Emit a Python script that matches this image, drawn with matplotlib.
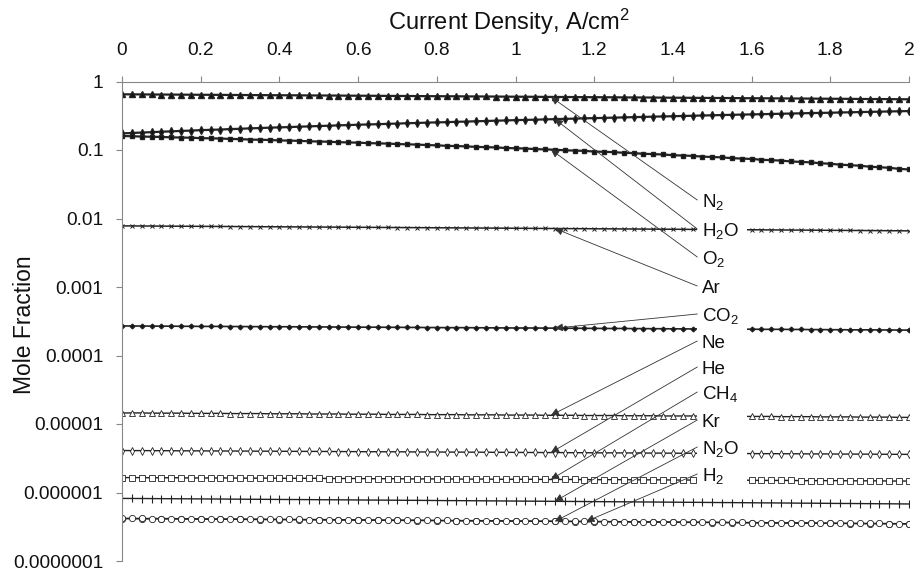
import numpy as np
import matplotlib
matplotlib.use("Agg")
import matplotlib.pyplot as plt
import matplotlib.transforms as mtransforms
from matplotlib.patches import Rectangle
from matplotlib.ticker import NullLocator

plt.rcParams['font.family'] = ['Liberation Sans', 'DejaVu Sans']
plt.rcParams['mathtext.fontset'] = 'custom'
plt.rcParams['mathtext.rm'] = 'Liberation Sans'
plt.rcParams['mathtext.it'] = 'Liberation Sans:italic'

# current density, A/cm2 (one point every 0.025)
current = np.round(np.arange(81) * 0.025, 3)
current_n2o = np.round(np.arange(41) * 0.05, 3)

n2 = [0.650, 0.649, 0.648, 0.646, 0.645, 0.644, 0.643, 0.641, 0.640, 0.639,
      0.638, 0.636, 0.635, 0.634, 0.633, 0.631, 0.630, 0.629, 0.628, 0.626,
      0.625, 0.624, 0.623, 0.621, 0.620, 0.619, 0.618, 0.616, 0.615, 0.614,
      0.613, 0.611, 0.610, 0.609, 0.608, 0.606, 0.605, 0.604, 0.603, 0.601,
      0.600, 0.599, 0.598, 0.596, 0.595, 0.594, 0.593, 0.591, 0.590, 0.589,
      0.588, 0.586, 0.585, 0.584, 0.583, 0.581, 0.580, 0.579, 0.578, 0.576,
      0.575, 0.574, 0.573, 0.571, 0.570, 0.569, 0.568, 0.566, 0.565, 0.564,
      0.563, 0.561, 0.560, 0.559, 0.558, 0.556, 0.555, 0.554, 0.553, 0.551,
      0.550]
h2o = [0.175, 0.177, 0.180, 0.182, 0.185, 0.187, 0.190, 0.192, 0.195, 0.197,
       0.199, 0.202, 0.204, 0.207, 0.209, 0.212, 0.214, 0.216, 0.219, 0.221,
       0.224, 0.226, 0.229, 0.231, 0.234, 0.236, 0.238, 0.241, 0.243, 0.246,
       0.248, 0.251, 0.253, 0.255, 0.258, 0.260, 0.263, 0.265, 0.268, 0.270,
       0.273, 0.275, 0.277, 0.280, 0.282, 0.285, 0.287, 0.290, 0.292, 0.294,
       0.297, 0.299, 0.302, 0.304, 0.307, 0.309, 0.311, 0.314, 0.316, 0.319,
       0.321, 0.324, 0.326, 0.329, 0.331, 0.333, 0.336, 0.338, 0.341, 0.343,
       0.346, 0.348, 0.350, 0.353, 0.355, 0.358, 0.360, 0.363, 0.365, 0.368,
       0.370]
o2 = [0.160, 0.159, 0.157, 0.156, 0.155, 0.153, 0.152, 0.151, 0.149, 0.148,
      0.147, 0.145, 0.144, 0.142, 0.141, 0.140, 0.138, 0.137, 0.136, 0.134,
      0.133, 0.132, 0.130, 0.129, 0.128, 0.126, 0.125, 0.124, 0.122, 0.121,
      0.120, 0.118, 0.117, 0.115, 0.114, 0.113, 0.111, 0.110, 0.109, 0.107,
      0.106, 0.105, 0.103, 0.102, 0.101, 0.099, 0.098, 0.097, 0.095, 0.094,
      0.093, 0.091, 0.090, 0.088, 0.087, 0.086, 0.084, 0.083, 0.082, 0.080,
      0.079, 0.078, 0.076, 0.075, 0.074, 0.072, 0.071, 0.070, 0.068, 0.067,
      0.066, 0.064, 0.063, 0.061, 0.060, 0.059, 0.057, 0.056, 0.055, 0.053,
      0.052]
# x 1e-3
ar = [7.80, 7.79, 7.77, 7.76, 7.74, 7.73, 7.71, 7.70, 7.68, 7.67,
      7.65, 7.64, 7.62, 7.61, 7.59, 7.58, 7.56, 7.55, 7.53, 7.52,
      7.50, 7.49, 7.47, 7.46, 7.44, 7.43, 7.41, 7.40, 7.38, 7.37,
      7.35, 7.34, 7.32, 7.31, 7.29, 7.28, 7.26, 7.25, 7.23, 7.22,
      7.20, 7.19, 7.17, 7.16, 7.14, 7.13, 7.11, 7.10, 7.08, 7.07,
      7.05, 7.04, 7.02, 7.01, 6.99, 6.98, 6.96, 6.95, 6.93, 6.92,
      6.90, 6.89, 6.87, 6.86, 6.84, 6.83, 6.81, 6.80, 6.78, 6.77,
      6.75, 6.74, 6.72, 6.71, 6.69, 6.68, 6.66, 6.65, 6.63, 6.62,
      6.60]
# x 1e-4
co2 = [2.70, 2.70, 2.69, 2.69, 2.68, 2.68, 2.67, 2.67, 2.66, 2.66,
       2.66, 2.65, 2.65, 2.64, 2.64, 2.63, 2.63, 2.63, 2.62, 2.62,
       2.61, 2.61, 2.60, 2.60, 2.59, 2.59, 2.59, 2.58, 2.58, 2.57,
       2.57, 2.56, 2.56, 2.55, 2.55, 2.55, 2.54, 2.54, 2.53, 2.53,
       2.52, 2.52, 2.52, 2.51, 2.51, 2.50, 2.50, 2.49, 2.49, 2.48,
       2.48, 2.48, 2.47, 2.47, 2.46, 2.46, 2.45, 2.45, 2.44, 2.44,
       2.44, 2.43, 2.43, 2.42, 2.42, 2.41, 2.41, 2.41, 2.40, 2.40,
       2.39, 2.39, 2.38, 2.38, 2.37, 2.37, 2.37, 2.36, 2.36, 2.35,
       2.35]
# x 1e-5
ne = [1.45, 1.45, 1.45, 1.44, 1.44, 1.44, 1.44, 1.43, 1.43, 1.43,
      1.43, 1.42, 1.42, 1.42, 1.42, 1.41, 1.41, 1.41, 1.41, 1.40,
      1.40, 1.40, 1.40, 1.39, 1.39, 1.39, 1.39, 1.38, 1.38, 1.38,
      1.38, 1.37, 1.37, 1.37, 1.37, 1.36, 1.36, 1.36, 1.36, 1.35,
      1.35, 1.35, 1.35, 1.34, 1.34, 1.34, 1.34, 1.33, 1.33, 1.33,
      1.33, 1.32, 1.32, 1.32, 1.32, 1.31, 1.31, 1.31, 1.31, 1.30,
      1.30, 1.30, 1.30, 1.29, 1.29, 1.29, 1.29, 1.28, 1.28, 1.28,
      1.28, 1.27, 1.27, 1.27, 1.27, 1.26, 1.26, 1.26, 1.26, 1.25,
      1.25]
# x 1e-6
he = [4.10, 4.09, 4.09, 4.08, 4.08, 4.07, 4.06, 4.06, 4.05, 4.04,
      4.04, 4.03, 4.03, 4.02, 4.01, 4.01, 4.00, 3.99, 3.99, 3.98,
      3.98, 3.97, 3.96, 3.96, 3.95, 3.94, 3.94, 3.93, 3.93, 3.92,
      3.91, 3.91, 3.90, 3.89, 3.89, 3.88, 3.88, 3.87, 3.86, 3.86,
      3.85, 3.84, 3.84, 3.83, 3.83, 3.82, 3.81, 3.81, 3.80, 3.79,
      3.79, 3.78, 3.78, 3.77, 3.76, 3.76, 3.75, 3.74, 3.74, 3.73,
      3.73, 3.72, 3.71, 3.71, 3.70, 3.69, 3.69, 3.68, 3.68, 3.67,
      3.66, 3.66, 3.65, 3.64, 3.64, 3.63, 3.63, 3.62, 3.61, 3.61,
      3.60]
# x 1e-6
ch4 = [1.65, 1.65, 1.65, 1.64, 1.64, 1.64, 1.64, 1.63, 1.63, 1.63,
       1.63, 1.63, 1.62, 1.62, 1.62, 1.62, 1.61, 1.61, 1.61, 1.61,
       1.61, 1.60, 1.60, 1.60, 1.60, 1.59, 1.59, 1.59, 1.59, 1.58,
       1.58, 1.58, 1.58, 1.58, 1.57, 1.57, 1.57, 1.57, 1.56, 1.56,
       1.56, 1.56, 1.56, 1.55, 1.55, 1.55, 1.55, 1.54, 1.54, 1.54,
       1.54, 1.54, 1.53, 1.53, 1.53, 1.53, 1.52, 1.52, 1.52, 1.52,
       1.52, 1.51, 1.51, 1.51, 1.51, 1.50, 1.50, 1.50, 1.50, 1.49,
       1.49, 1.49, 1.49, 1.49, 1.48, 1.48, 1.48, 1.48, 1.47, 1.47,
       1.47]
# x 1e-7
kr = [8.20, 8.18, 8.17, 8.15, 8.13, 8.11, 8.10, 8.08, 8.06, 8.04,
      8.03, 8.01, 7.99, 7.97, 7.96, 7.94, 7.92, 7.90, 7.89, 7.87,
      7.85, 7.83, 7.82, 7.80, 7.78, 7.76, 7.75, 7.73, 7.71, 7.69,
      7.68, 7.66, 7.64, 7.62, 7.61, 7.59, 7.57, 7.55, 7.54, 7.52,
      7.50, 7.48, 7.47, 7.45, 7.43, 7.41, 7.40, 7.38, 7.36, 7.34,
      7.33, 7.31, 7.29, 7.27, 7.26, 7.24, 7.22, 7.20, 7.19, 7.17,
      7.15, 7.13, 7.12, 7.10, 7.08, 7.06, 7.05, 7.03, 7.01, 6.99,
      6.98, 6.96, 6.94, 6.92, 6.91, 6.89, 6.87, 6.85, 6.84, 6.82,
      6.80]
# x 1e-7
n2o = [4.15, 4.13, 4.12, 4.10, 4.08, 4.07, 4.05, 4.03, 4.01, 4.00,
       3.98, 3.96, 3.95, 3.93, 3.91, 3.90, 3.88, 3.86, 3.84, 3.83,
       3.81, 3.79, 3.78, 3.76, 3.74, 3.73, 3.71, 3.69, 3.67, 3.66,
       3.64, 3.62, 3.61, 3.59, 3.57, 3.56, 3.54, 3.52, 3.50, 3.49,
       3.47]
# x 1e-7
h2 = [4.20, 4.19, 4.18, 4.17, 4.17, 4.16, 4.15, 4.14, 4.13, 4.12,
      4.11, 4.10, 4.10, 4.09, 4.08, 4.07, 4.06, 4.05, 4.04, 4.03,
      4.03, 4.02, 4.01, 4.00, 3.99, 3.98, 3.97, 3.96, 3.96, 3.95,
      3.94, 3.93, 3.92, 3.91, 3.90, 3.89, 3.89, 3.88, 3.87, 3.86,
      3.85, 3.84, 3.83, 3.82, 3.82, 3.81, 3.80, 3.79, 3.78, 3.77,
      3.76, 3.75, 3.75, 3.74, 3.73, 3.72, 3.71, 3.70, 3.69, 3.68,
      3.68, 3.67, 3.66, 3.65, 3.64, 3.63, 3.62, 3.61, 3.61, 3.60,
      3.59, 3.58, 3.57, 3.56, 3.55, 3.54, 3.54, 3.53, 3.52, 3.51,
      3.50]

labels = ['N$_2$', 'H$_2$O', 'O$_2$', 'Ar', 'CO$_2$', 'Ne', 'He',
          'CH$_4$', 'Kr', 'N$_2$O', 'H$_2$']
# current density where each label's arrow meets its curve
arrow_x = [1.09, 1.10, 1.09, 1.10, 1.10, 1.09, 1.09, 1.09, 1.10, 1.10, 1.18]

y_ticks = [1, 0.1, 0.01, 0.001, 0.0001, 0.00001, 0.000001, 0.0000001]
y_tick_labels = ['1', '0.1', '0.01', '0.001', '0.0001', '0.00001',
                 '0.000001', '0.0000001']
x_ticks = [0, 0.2, 0.4, 0.6, 0.8, 1, 1.2, 1.4, 1.6, 1.8, 2]
x_tick_labels = ['0', '0.2', '0.4', '0.6', '0.8', '1', '1.2', '1.4',
                 '1.6', '1.8', '2']

series = [
    (current, np.array(n2), dict(marker='^', ms=4.5, mfc='#111', lw=1.6)),
    (current, np.array(h2o), dict(marker='d', ms=4, mfc='#111', lw=1.6)),
    (current, np.array(o2), dict(marker='s', ms=3.2, mfc='#111', lw=1.6)),
    (current, np.array(ar) * 1e-3, dict(marker='x', ms=3.5, mfc='#555', lw=1.1, mew=0.7)),
    (current, np.array(co2) * 1e-4, dict(marker='D', ms=2.4, mfc='#111', lw=1.2)),
    (current, np.array(ne) * 1e-5, dict(marker='^', ms=4.5, mfc='white', lw=1.0, mew=0.6)),
    (current, np.array(he) * 1e-6, dict(marker='d', ms=4, mfc='white', lw=1.0, mew=0.6)),
    (current, np.array(ch4) * 1e-6, dict(marker='s', ms=3.8, mfc='white', lw=1.0, mew=0.6)),
    (current, np.array(kr) * 1e-7, dict(marker='|', ms=6, mfc='#111', lw=1.0, mew=0.8)),
    (current_n2o, np.array(n2o) * 1e-7, dict(marker='o', ms=4.5, mfc='none', lw=1.0, mew=0.6)),
    (current, np.array(h2) * 1e-7, dict(marker='o', ms=4.5, mfc='white', lw=1.0, mew=0.6)),
]

fig = plt.figure(figsize=(9.14, 5.77), dpi=100)
ax = fig.add_axes([122 / 914, 1 - 561 / 577, 787 / 914, 479.5 / 577])

for xs, ys, st in series:
    ax.plot(xs, ys, color='#222', mec='#222', zorder=2, **st)

ax.set_yscale('log')
ax.set_xlim(0, 2)
ax.set_ylim(1e-7, 1)
ax.set_yticks(y_ticks)
ax.set_yticklabels(y_tick_labels)
ax.yaxis.set_minor_locator(NullLocator())
ax.set_xticks(x_ticks)
ax.set_xticklabels(x_tick_labels)

for side in ['right', 'bottom']:
    ax.spines[side].set_visible(False)
for side in ['left', 'top']:
    ax.spines[side].set_color('#888888')
    ax.spines[side].set_linewidth(0.8)

ax.tick_params(axis='both', direction='out', color='#888888', length=4.5,
               width=0.8, labelsize=13.8, labelcolor='#111')
ax.tick_params(axis='x', top=True, bottom=False, labeltop=True,
               labelbottom=False, pad=12)
ax.tick_params(axis='y', pad=9)

ax.text(0.338, 1.107, 'Current Density, A/cm$^2$', transform=ax.transAxes,
        ha='left', va='baseline', fontsize=17, color='#111')
ax.text(-0.1245, 0.492, 'Mole Fraction', transform=ax.transAxes,
        rotation=90, ha='center', va='center', fontsize=16.5, color='#111')

# white column behind the labels
blend = mtransforms.blended_transform_factory(ax.transData, ax.transAxes)
ax.add_patch(Rectangle((1.462, 0.156), 0.127, 0.622, transform=blend,
                       facecolor='white', edgecolor='none', zorder=3))

label_px = [200, 229, 257, 286, 314, 341, 367, 392, 420, 447, 474]
for i, lab in enumerate(labels):
    yf = 1 - (label_px[i] - 81.5) / 479.5
    xs, ys, _ = series[i]
    ty = 10 ** np.interp(arrow_x[i], xs, np.log10(ys))
    ax.annotate('', xy=(arrow_x[i], ty), xycoords='data',
                xytext=(1.462, yf), textcoords=blend,
                arrowprops=dict(arrowstyle='-|>,head_length=0.4,head_width=0.2',
                                mutation_scale=12, lw=0.6, color='#333',
                                shrinkA=0, shrinkB=0),
                zorder=4, annotation_clip=False)
    ax.text(1.473, yf - 6.7 / 479.5, lab, transform=blend, ha='left',
            va='baseline', fontsize=13.5, color='#111', zorder=5)

fig.savefig('out.png', dpi=100)
